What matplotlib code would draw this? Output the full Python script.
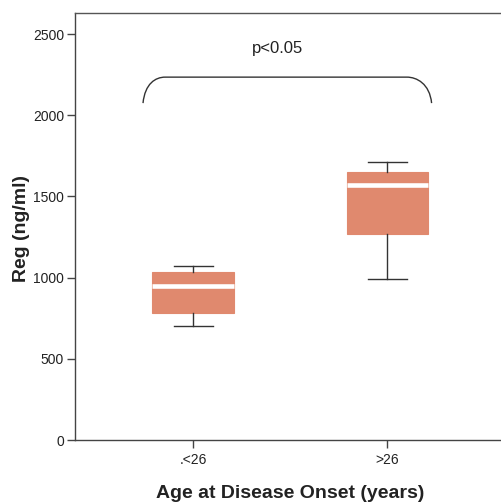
import matplotlib
matplotlib.use("Agg")
import matplotlib.pyplot as plt
from matplotlib.path import Path
from matplotlib.patches import PathPatch

plt.rcParams['font.family'] = ['Liberation Sans', 'DejaVu Sans']

categories = ['.<26', '>26']
whislo = [702, 991]
q1 = [780, 1270]
med = [948, 1571]
q3 = [1034, 1650]
whishi = [1073, 1714]
yticks = [0, 500, 1000, 1500, 2000, 2500]

fig = plt.figure(figsize=(5.01, 5.03), dpi=100)
ax = fig.add_axes([75/501, 1-440/503, 432/501, 427/503])

stats = []
for i, c in enumerate(categories):
    stats.append(dict(label=c, whislo=whislo[i], q1=q1[i], med=med[i],
                      q3=q3[i], whishi=whishi[i], fliers=[]))

box_color = '#E0896E'
ax.bxp(stats, positions=[0, 1], widths=0.42, capwidths=0.2, patch_artist=True,
       showfliers=False,
       boxprops=dict(facecolor=box_color, edgecolor=box_color, linewidth=0.8),
       medianprops=dict(color='white', linewidth=3.3, solid_capstyle='butt'),
       whiskerprops=dict(color='#333333', linewidth=1.0),
       capprops=dict(color='#333333', linewidth=1.0))

ax.set_xlim(-0.608, 1.615)
ax.set_ylim(0, 2630)
ax.set_yticks(yticks)
ax.set_xticks([0, 1])
ax.set_xticklabels(categories)

for s in ['left', 'bottom']:
    ax.spines[s].set_color('#444444')
    ax.spines[s].set_linewidth(1.0)
ax.spines['top'].set_color('#555555')
ax.spines['top'].set_linewidth(1.0)
ax.spines['right'].set_visible(False)

ax.tick_params(axis='both', direction='out', length=6, width=1.0, color='#444444',
               labelsize=10, labelcolor='#222222', pad=2)
ax.tick_params(axis='x', pad=3)

ax.set_ylabel('Reg (ng/ml)', fontsize=14, fontweight='bold', va='center', color='#222222')
ax.yaxis.set_label_coords((22 - 75) / 432, (440 - 228) / 427)
ax.set_xlabel('Age at Disease Onset (years)', fontsize=14, fontweight='bold', va='center',
              color='#222222')
ax.xaxis.set_label_coords((290 - 75) / 432, (440 - 494) / 427)

# significance bracket
x0, x1 = -0.258, 1.227
yb, yt = 2075, 2235
xl, xr = -0.144, 1.10
verts = [(x0, yb), (x0 + 0.01, yb + 0.75*(yt-yb)), (xl - 0.05, yt), (xl, yt),
         (xr, yt),
         (xr + 0.05, yt), (x1 - 0.01, yb + 0.75*(yt-yb)), (x1, yb)]
codes = [Path.MOVETO, Path.CURVE4, Path.CURVE4, Path.CURVE4,
         Path.LINETO,
         Path.CURVE4, Path.CURVE4, Path.CURVE4]
ax.add_patch(PathPatch(Path(verts, codes), fill=False, edgecolor='#333333', linewidth=1.0))
ax.text(0.433, 2414, 'p<0.05', ha='center', va='center', fontsize=12, color='#222222')

fig.savefig('out.png', dpi=100)
